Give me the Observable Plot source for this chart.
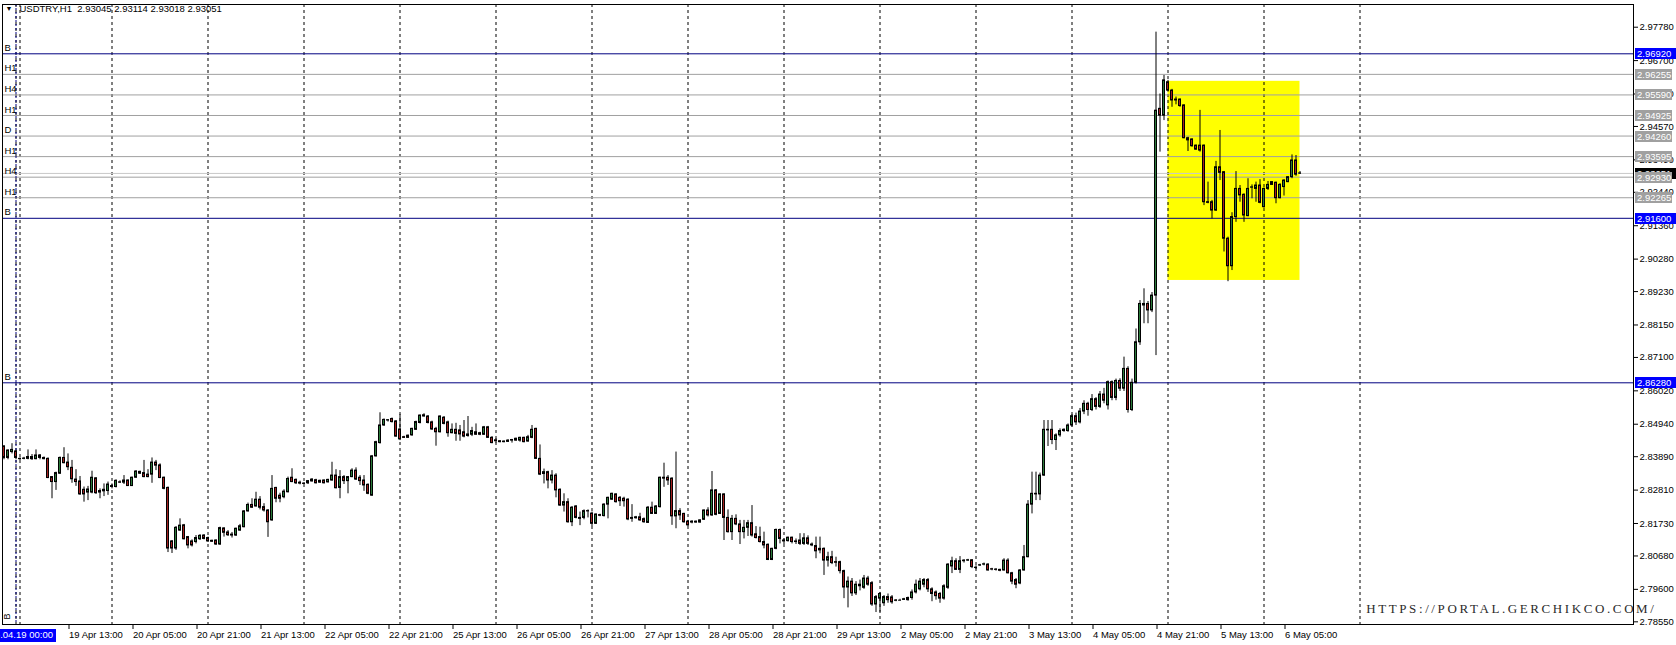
<!DOCTYPE html>
<html><head><meta charset="utf-8">
<script src="https://cdn.jsdelivr.net/npm/d3@7"></script>
<script src="https://cdn.jsdelivr.net/npm/@observablehq/plot@0.6"></script>
<style>
html,body{margin:0;padding:0;background:#fff;overflow:hidden}
#chart svg{display:block}
</style></head><body><div id="chart"></div>
<script>
const symbolTitle = "USDTRY,H1  2.93045 2.93114 2.93018 2.93051";
const days = ["18 Apr","19 Apr","20 Apr","21 Apr","22 Apr","25 Apr","26 Apr","27 Apr","28 Apr","29 Apr","2 May","3 May","4 May","5 May","6 May","9 May"];
const firstBarHour = 21;

const open = [
2.8422,2.8385,2.8404,2.8406,2.8382,2.8382,2.8382,2.8388,2.8381,2.8393,
2.8385,2.8382,2.8323,2.8307,2.8334,2.8385,2.8370,2.8353,2.8315,2.8309,
2.8282,2.8273,2.8273,2.8319,2.8278,2.8277,2.8278,2.8291,2.8291,2.8306,
2.8305,2.8312,2.8294,2.8321,2.8340,2.8336,2.8331,2.8331,2.8370,2.8361,
2.8321,2.8288,2.8115,2.8092,2.8150,2.8167,2.8129,2.8115,2.8113,2.8122,
2.8134,2.8126,2.8117,2.8118,2.8105,2.8157,2.8144,2.8137,2.8134,2.8150,
2.8161,2.8212,2.8233,2.8228,2.8250,2.8226,2.8215,2.8183,2.8288,2.8263,
2.8258,2.8274,2.8321,2.8314,2.8305,2.8302,2.8303,2.8309,2.8313,2.8305,
2.8312,2.8306,2.8312,2.8328,2.8288,2.8323,2.8310,2.8323,2.8344,2.8321,
2.8312,2.8298,2.8263,2.8390,2.8433,2.8490,2.8506,2.8511,2.8503,2.8477,
2.8452,2.8450,2.8458,2.8476,2.8498,2.8523,2.8519,2.8500,2.8479,2.8468,
2.8515,2.8500,2.8465,2.8476,2.8474,2.8468,2.8461,2.8460,2.8468,2.8465,
2.8460,2.8484,2.8450,2.8442,2.8439,2.8436,2.8437,2.8441,2.8447,2.8441,
2.8450,2.8438,2.8450,2.8479,2.8382,2.8333,2.8339,2.8312,2.8328,2.8282,
2.8231,2.8242,2.8177,2.8228,2.8191,2.8191,2.8213,2.8205,2.8172,2.8200,
2.8197,2.8234,2.8250,2.8267,2.8256,2.8253,2.8250,2.8191,2.8190,2.8193,
2.8187,2.8175,2.8224,2.8204,2.8226,2.8321,2.8321,2.8318,2.8196,2.8213,
2.8204,2.8179,2.8179,2.8176,2.8176,2.8185,2.8215,2.8199,2.8280,2.8204,
2.8267,2.8191,2.8145,2.8188,2.8170,2.8145,2.8159,2.8174,2.8138,2.8129,
2.8113,2.8104,2.8055,2.8091,2.8152,2.8118,2.8116,2.8127,2.8115,2.8118,
2.8107,2.8125,2.8105,2.8100,2.8091,2.8091,2.8053,2.8064,2.8048,2.8048,
2.8019,2.7966,2.7985,2.7947,2.7975,2.7965,2.7995,2.7980,2.7911,2.7930,
2.7915,2.7935,2.7934,2.7923,2.7925,2.7926,2.7925,2.7932,2.7950,2.7960,
2.7975,2.7990,2.7960,2.7950,2.7945,2.7930,2.7965,2.8034,2.8051,2.8023,
2.8051,2.8053,2.8054,2.8030,2.8037,2.8040,2.8040,2.8025,2.8024,2.8023,
2.8021,2.8053,2.8012,2.7990,2.7979,2.8021,2.8064,2.8234,2.8269,2.8267,
2.8328,2.8476,2.8476,2.8443,2.8458,2.8476,2.8472,2.8490,2.8520,2.8500,
2.8535,2.8560,2.8540,2.8575,2.8550,2.8590,2.8555,2.8630,2.8579,2.8634,
2.8609,2.8673,2.8540,2.8628,2.8759,2.8883,2.8883,2.8862,2.8910,2.9514,
2.9492,2.9600,2.9573,2.9541,2.9544,2.9525,2.9419,2.9415,2.9395,2.9395,
2.9395,2.9212,2.9212,2.9185,2.9325,2.9309,2.9094,2.9005,2.9164,2.9255,
2.9236,2.9167,2.9259,2.9255,2.9266,2.9196,2.9255,2.9268,2.9275,2.9225,
2.9261,2.9277,2.9293,2.9347,2.93045];

const high = [
2.8425,2.8411,2.8431,2.8409,2.8385,2.8387,2.8411,2.8396,2.8411,2.8396,
2.8388,2.8385,2.8325,2.8339,2.8388,2.8418,2.8398,2.8377,2.8347,2.8325,
2.8291,2.8293,2.8342,2.8321,2.8285,2.8301,2.8307,2.8301,2.8314,2.8311,
2.8328,2.8314,2.8323,2.8344,2.8342,2.8377,2.8347,2.8385,2.8377,2.8366,
2.8323,2.8291,2.8118,2.8163,2.8188,2.8170,2.8131,2.8120,2.8134,2.8137,
2.8137,2.8129,2.8119,2.8120,2.8161,2.8159,2.8150,2.8144,2.8158,2.8170,
2.8215,2.8239,2.8253,2.8274,2.8260,2.8237,2.8218,2.8328,2.8290,2.8271,
2.8282,2.8323,2.8350,2.8317,2.8310,2.8305,2.8312,2.8318,2.8316,2.8313,
2.8314,2.8316,2.8371,2.8347,2.8344,2.8328,2.8325,2.8350,2.8353,2.8328,
2.8328,2.8301,2.8393,2.8439,2.8531,2.8511,2.8509,2.8514,2.8506,2.8525,
2.8455,2.8459,2.8481,2.8504,2.8524,2.8528,2.8522,2.8504,2.8484,2.8521,
2.8519,2.8504,2.8495,2.8497,2.8490,2.8506,2.8519,2.8484,2.8495,2.8468,
2.8487,2.8487,2.8454,2.8447,2.8441,2.8440,2.8444,2.8445,2.8449,2.8452,
2.8452,2.8458,2.8490,2.8481,2.8427,2.8349,2.8342,2.8344,2.8334,2.8285,
2.8269,2.8253,2.8228,2.8231,2.8210,2.8217,2.8217,2.8210,2.8204,2.8203,
2.8237,2.8258,2.8271,2.8269,2.8260,2.8258,2.8253,2.8234,2.8196,2.8206,
2.8191,2.8228,2.8242,2.8231,2.8323,2.8368,2.8328,2.8321,2.8404,2.8221,
2.8206,2.8183,2.8182,2.8181,2.8185,2.8217,2.8224,2.8341,2.8283,2.8269,
2.8269,2.8217,2.8199,2.8201,2.8183,2.8183,2.8183,2.8231,2.8163,2.8161,
2.8145,2.8107,2.8093,2.8155,2.8155,2.8123,2.8129,2.8129,2.8123,2.8140,
2.8140,2.8133,2.8110,2.8129,2.8129,2.8094,2.8080,2.8083,2.8064,2.8051,
2.8022,2.8000,2.7995,2.7985,2.7990,2.8005,2.8002,2.7985,2.7940,2.7950,
2.7940,2.7945,2.7940,2.7927,2.7928,2.7931,2.7935,2.7958,2.7990,2.7995,
2.7995,2.7995,2.7965,2.7955,2.7950,2.7975,2.8043,2.8064,2.8059,2.8066,
2.8056,2.8057,2.8056,2.8036,2.8041,2.8045,2.8043,2.8028,2.8027,2.8025,
2.8059,2.8059,2.8015,2.7995,2.8024,2.8102,2.8247,2.8339,2.8339,2.8336,
2.8506,2.8506,2.8506,2.8463,2.8479,2.8479,2.8495,2.8525,2.8530,2.8545,
2.8570,2.8565,2.8590,2.8580,2.8600,2.8610,2.8634,2.8634,2.8640,2.8641,
2.8711,2.8680,2.8640,2.8802,2.8894,2.8932,2.8891,2.8920,2.9762,2.9562,
2.9622,2.9606,2.9577,2.9552,2.9546,2.9527,2.9422,2.9417,2.9397,2.9509,
2.9397,2.9277,2.9218,2.9344,2.9444,2.9311,2.9099,2.9178,2.9311,2.9266,
2.9239,2.9288,2.9268,2.9277,2.9285,2.9258,2.9279,2.9279,2.9277,2.9272,
2.9285,2.9295,2.9365,2.9363,2.93114];

const low = [
2.8379,2.8379,2.8398,2.8379,2.8377,2.8379,2.8379,2.8377,2.8379,2.8379,
2.8379,2.8318,2.8253,2.8280,2.8332,2.8366,2.8344,2.8303,2.8293,2.8264,
2.8242,2.8247,2.8269,2.8267,2.8253,2.8260,2.8264,2.8285,2.8288,2.8303,
2.8299,2.8293,2.8293,2.8319,2.8332,2.8321,2.8321,2.8303,2.8344,2.8318,
2.8282,2.8079,2.8076,2.8086,2.8148,2.8120,2.8091,2.8097,2.8107,2.8118,
2.8120,2.8112,2.8112,2.8102,2.8102,2.8129,2.8131,2.8126,2.8131,2.8148,
2.8159,2.8210,2.8222,2.8226,2.8217,2.8210,2.8128,2.8180,2.8240,2.8240,
2.8253,2.8272,2.8305,2.8299,2.8298,2.8299,2.8299,2.8307,2.8301,2.8303,
2.8301,2.8304,2.8310,2.8285,2.8253,2.8299,2.8269,2.8321,2.8312,2.8296,
2.8277,2.8266,2.8261,2.8388,2.8430,2.8487,2.8501,2.8498,2.8452,2.8441,
2.8448,2.8448,2.8455,2.8474,2.8495,2.8517,2.8495,2.8474,2.8423,2.8466,
2.8492,2.8452,2.8463,2.8439,2.8439,2.8450,2.8452,2.8454,2.8458,2.8457,
2.8458,2.8448,2.8431,2.8433,2.8434,2.8434,2.8435,2.8433,2.8439,2.8436,
2.8434,2.8436,2.8447,2.8380,2.8328,2.8301,2.8285,2.8301,2.8256,2.8228,
2.8210,2.8174,2.8163,2.8188,2.8166,2.8185,2.8191,2.8163,2.8170,2.8195,
2.8194,2.8188,2.8248,2.8239,2.8228,2.8226,2.8182,2.8177,2.8187,2.8180,
2.8174,2.8173,2.8202,2.8202,2.8223,2.8290,2.8296,2.8167,2.8156,2.8183,
2.8174,2.8163,2.8172,2.8174,2.8174,2.8183,2.8194,2.8196,2.8198,2.8202,
2.8118,2.8142,2.8118,2.8166,2.8105,2.8123,2.8131,2.8129,2.8123,2.8110,
2.8091,2.8053,2.8053,2.8088,2.8107,2.8105,2.8113,2.8107,2.8105,2.8102,
2.8102,2.8102,2.8098,2.8059,2.8075,2.8005,2.8032,2.8040,2.8032,2.8010,
2.7930,2.7900,2.7937,2.7940,2.7955,2.7960,2.7970,2.7905,2.7885,2.7886,
2.7905,2.7915,2.7912,2.7920,2.7922,2.7924,2.7922,2.7925,2.7945,2.7955,
2.7965,2.7950,2.7920,2.7925,2.7915,2.7925,2.7960,2.8011,2.8021,2.8011,
2.8045,2.8050,2.8027,2.8024,2.8034,2.8036,2.8019,2.8020,2.8019,2.8017,
2.8019,2.8010,2.7975,2.7962,2.7975,2.8019,2.8062,2.8204,2.8247,2.8247,
2.8325,2.8422,2.8428,2.8409,2.8452,2.8468,2.8468,2.8485,2.8490,2.8495,
2.8525,2.8520,2.8535,2.8540,2.8545,2.8560,2.8540,2.8570,2.8570,2.8600,
2.8600,2.8530,2.8535,2.8624,2.8749,2.8819,2.8819,2.8855,2.8716,2.9374,
2.9476,2.9568,2.9519,2.9527,2.9519,2.9417,2.9376,2.9390,2.9380,2.9374,
2.9201,2.9207,2.9158,2.9182,2.9282,2.9051,2.8955,2.8991,2.9147,2.9212,
2.9147,2.9165,2.9223,2.9212,2.9207,2.9193,2.9250,2.9266,2.9207,2.9223,
2.9232,2.9275,2.9288,2.9296,2.93018];

const close = [
2.8385,2.8409,2.8411,2.8385,2.8381,2.8383,2.8388,2.8381,2.8393,2.8385,
2.8381,2.8320,2.8307,2.8336,2.8385,2.8368,2.8355,2.8316,2.8307,2.8267,
2.8267,2.8283,2.8321,2.8271,2.8273,2.8282,2.8299,2.8294,2.8311,2.8305,
2.8312,2.8294,2.8321,2.8341,2.8334,2.8323,2.8323,2.8370,2.8360,2.8320,
2.8285,2.8092,2.8092,2.8159,2.8166,2.8122,2.8102,2.8102,2.8126,2.8133,
2.8123,2.8115,2.8114,2.8105,2.8158,2.8143,2.8135,2.8134,2.8156,2.8164,
2.8212,2.8233,2.8224,2.8250,2.8224,2.8215,2.8177,2.8285,2.8253,2.8253,
2.8276,2.8317,2.8307,2.8303,2.8302,2.8301,2.8310,2.8315,2.8303,2.8311,
2.8303,2.8314,2.8328,2.8287,2.8323,2.8310,2.8323,2.8344,2.8315,2.8310,
2.8296,2.8269,2.8390,2.8436,2.8490,2.8508,2.8507,2.8501,2.8454,2.8445,
2.8450,2.8457,2.8479,2.8501,2.8522,2.8519,2.8498,2.8477,2.8468,2.8519,
2.8495,2.8465,2.8476,2.8463,2.8461,2.8454,2.8456,2.8472,2.8460,2.8460,
2.8484,2.8450,2.8433,2.8439,2.8436,2.8438,2.8441,2.8443,2.8441,2.8450,
2.8436,2.8452,2.8476,2.8382,2.8331,2.8339,2.8312,2.8328,2.8280,2.8231,
2.8242,2.8177,2.8224,2.8191,2.8188,2.8213,2.8212,2.8172,2.8202,2.8198,
2.8234,2.8256,2.8269,2.8242,2.8245,2.8245,2.8186,2.8188,2.8193,2.8183,
2.8177,2.8224,2.8204,2.8228,2.8321,2.8318,2.8312,2.8196,2.8213,2.8199,
2.8177,2.8167,2.8176,2.8179,2.8183,2.8215,2.8199,2.8280,2.8201,2.8267,
2.8191,2.8145,2.8188,2.8170,2.8145,2.8159,2.8174,2.8134,2.8126,2.8113,
2.8102,2.8055,2.8091,2.8152,2.8123,2.8115,2.8127,2.8113,2.8113,2.8107,
2.8125,2.8107,2.8102,2.8083,2.8086,2.8053,2.8064,2.8045,2.8046,2.8019,
2.7966,2.7985,2.7947,2.7975,2.7970,2.7995,2.7975,2.7911,2.7935,2.7945,
2.7935,2.7925,2.7918,2.7924,2.7925,2.7928,2.7932,2.7950,2.7975,2.7985,
2.7990,2.7960,2.7945,2.7938,2.7930,2.7970,2.8040,2.8051,2.8023,2.8051,
2.8053,2.8054,2.8032,2.8029,2.8038,2.8041,2.8021,2.8024,2.8023,2.8020,
2.8053,2.8012,2.7985,2.7975,2.8021,2.8064,2.8234,2.8269,2.8267,2.8328,
2.8476,2.8474,2.8443,2.8458,2.8472,2.8472,2.8490,2.8520,2.8500,2.8535,
2.8560,2.8540,2.8575,2.8550,2.8590,2.8570,2.8630,2.8579,2.8634,2.8609,
2.8673,2.8540,2.8628,2.8759,2.8883,2.8878,2.8862,2.8910,2.9508,2.9492,
2.9606,2.9573,2.9541,2.9544,2.9523,2.9419,2.9412,2.9393,2.9382,2.9379,
2.9212,2.9210,2.9185,2.9325,2.9307,2.9094,2.9005,2.9164,2.9255,2.9234,
2.9169,2.9255,2.9260,2.9266,2.9210,2.9255,2.9268,2.9277,2.9225,2.9268,
2.9282,2.9293,2.9347,2.9301,2.93051];

const timeTicks = ["19 Apr 13:00","20 Apr 05:00","20 Apr 21:00","21 Apr 13:00","22 Apr 05:00","22 Apr 21:00","25 Apr 13:00","26 Apr 05:00","26 Apr 21:00","27 Apr 13:00","28 Apr 05:00","28 Apr 21:00","29 Apr 13:00","2 May 05:00","2 May 21:00","3 May 13:00","4 May 05:00","4 May 21:00","5 May 13:00","6 May 05:00"];
const markedTime = "19 Apr 00:00";
const markedLabel = "2016.04.19 00:00";
const extraGridTime = "19 Apr 01:00";
const priceTicks = [2.97780,2.96700,2.95620,2.94570,2.93490,2.92440,2.91360,2.90280,2.89230,2.88150,2.87100,2.86020,2.84940,2.83890,2.82810,2.81730,2.80680,2.79600,2.78550];
const levelNames = ["B","H1","H4","H1","D","H1","H4","H1","B","B"];
const levelPrices = [2.96920,2.96255,2.95590,2.94925,2.94260,2.93595,2.92930,2.92265,2.91600,2.86280];
const bidPrice = 2.93051;
const zoneStart = "5 May 00:00", zoneEnd = "6 May 09:00";
const zoneLow = 2.8959, zoneHigh = 2.9603;
const watermark = "HTTPS://PORTAL.GERCHIKCO.COM/";

const UP = "#2b7a3a", DOWN = "#a3201f", NAVY = "#000080", GREYLVL = "#a0a0a0", BLUEBOX = "#0000ff";

const times = days.flatMap((d, j) => d3.range(j === 0 ? firstBarHour : 0, 24).map(h => `${d} ${String(h).padStart(2, "0")}:00`));
const pos = t => times.indexOf(t);
const bars = open.map((o, k) => ({k, o, h: Math.max(high[k], o, close[k]), l: Math.min(low[k], o, close[k]), c: close[k]}));
const bodies = bars.filter(b => Math.abs(b.c - b.o) > 0.00002);
const dojis = bars.filter(b => Math.abs(b.c - b.o) <= 0.00002);
const levels = levelNames.map((name, j) => ({name, p: levelPrices[j], major: name === "B"}));
const gridKs = days.slice(1).map(d => pos(`${d} 00:00`));
const FONT = "Liberation Sans, Arial, sans-serif";

const plot = Plot.plot({
  width: 1676, height: 645,
  marginLeft: 2, marginRight: 43, marginTop: 4, marginBottom: 21,
  x: {type: "linear", domain: [0, 1], range: [3.5, 7.5], axis: null},
  y: {type: "linear", domain: [2.8628, 2.9692], range: [382.3, 53.3], axis: null},
  style: {fontFamily: FONT, fontSize: "9.5px", background: "#fff", color: "#000", overflow: "visible"},
  marks: [
    Plot.rect([0], {x1: () => pos(zoneStart), x2: () => pos(zoneEnd), y1: () => zoneLow, y2: () => zoneHigh, fill: "#ffff00"}),
    Plot.ruleX(gridKs.concat([pos(extraGridTime)]), {x: d => d, stroke: "#000", strokeDasharray: "3,3"}),
    Plot.ruleY([bidPrice], {y: d => d, stroke: "#c8c8c8"}),
    Plot.ruleY(levels, {y: "p", stroke: d => d.major ? NAVY : GREYLVL, strokeDasharray: d => d.major ? "3,3" : "4,4"}),
    Plot.ruleX([pos(markedTime)], {x: d => d, stroke: NAVY, strokeDasharray: "2,2"}),
    Plot.ruleX(bars, {x: "k", y1: "l", y2: "h", stroke: "#000"}),
    Plot.rect(bodies, {x1: d => d.k - 0.25, x2: d => d.k + 0.25, y1: "o", y2: "c", fill: d => d.c > d.o ? UP : DOWN, stroke: "#000", strokeWidth: 1}),
    Plot.ruleY(dojis, {y: "c", x1: d => d.k - 0.375, x2: d => d.k + 0.375, stroke: "#000"}),
    Plot.frame({stroke: "#000"}),
    Plot.axisX(timeTicks.map(pos), {anchor: "bottom", label: null, tickSize: 5, tickPadding: 2, tickFormat: k => times[k], textAnchor: "start", dx: 1, fontSize: 9.5}),
    Plot.axisY(priceTicks, {anchor: "right", label: null, tickSize: 4, tickPadding: 2, tickFormat: d => d.toFixed(5), fontSize: 9.5}),
    Plot.text(levels, {y: "p", text: "name", frameAnchor: "left", textAnchor: "start", dx: 2, dy: -6, fill: "#000", fontSize: 9.5}),
    Plot.text([symbolTitle], {frameAnchor: "top-left", textAnchor: "start", lineAnchor: "top", dx: 17, dy: 1, fill: "#000", fontSize: 9.5}),
    Plot.text(["\u25BC"], {frameAnchor: "top-left", textAnchor: "start", lineAnchor: "top", dx: 3, dy: 2, fill: "#000", fontSize: 7}),
    Plot.text(["B"], {x: () => pos(markedTime), frameAnchor: "bottom", rotate: -90, dx: -6, dy: -8, fill: "#000", fontSize: 9}),
    Plot.ruleX([pos(markedTime)], {x: d => d, stroke: BLUEBOX, strokeWidth: 80, insetTop: 625, insetBottom: -18}),
    Plot.text([markedLabel], {x: () => pos(markedTime), frameAnchor: "bottom", lineAnchor: "top", dy: 7, fill: "#fff", fontSize: 9.5}),
    Plot.text([watermark], {frameAnchor: "bottom-right", textAnchor: "end", lineAnchor: "bottom", dx: 23, dy: -12, fill: "#2a2a2a", fontSize: 13, fontFamily: "Liberation Serif, DejaVu Serif, serif"})
  ]
});
document.getElementById("chart").appendChild(plot);
const svg = d3.select(plot);
svg.selectAll("text").filter(function() { return this.textContent === watermark; }).attr("letter-spacing", "2.6px");

// price labels on the right axis (bid label underneath, level labels on top), positioned with Plot's y scale
const yS = plot.scale("y");
const lab = svg.append("g").attr("font-family", FONT).attr("font-size", "9.5px").attr("text-anchor", "start");
function priceBox(p, fill, w, txtFill) {
  const yy = Math.round(yS.apply(p));
  lab.append("rect").attr("x", 1635).attr("y", yy - 5).attr("width", w).attr("height", 11).attr("fill", fill);
  lab.append("text").attr("x", 1637).attr("y", yy + 0.5).attr("dy", "0.35em").attr("text-anchor", "start").attr("fill", txtFill).text(p.toFixed(5));
}
priceBox(bidPrice, "#000", 41, "#fff");
levels.forEach(l => priceBox(l.p, l.major ? BLUEBOX : "#a0a0a0", l.major ? 41 : 37, "#fff"));
</script>
</body></html>
